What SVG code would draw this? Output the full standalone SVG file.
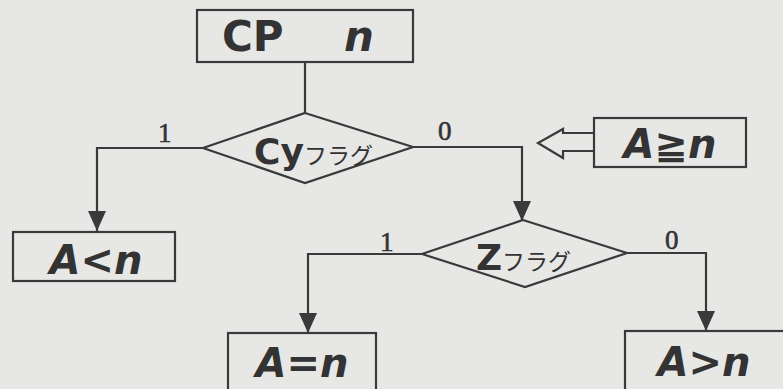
<svg xmlns="http://www.w3.org/2000/svg" width="783" height="389" viewBox="0 0 783 389">
  <defs>
    <marker id="arr" viewBox="0 0 20 18" refX="20" refY="9" markerWidth="20" markerHeight="18" markerUnits="userSpaceOnUse" orient="auto">
      <path d="M0,0 L20,9 L0,18 Z" fill="#3a3a3a"/>
    </marker>
  </defs>
  <style>
    .bg { fill: #e7e7e5; }
    .box { fill: none; stroke: #3a3a3a; stroke-width: 2.2; }
    .line { fill: none; stroke: #3a3a3a; stroke-width: 2.2; }
    .big { font-family: "DejaVu Sans", "Liberation Sans", sans-serif; font-weight: bold; fill: #333; }
    .it { font-style: italic; }
    .jp { font-family: "Noto Sans CJK JP", sans-serif; font-weight: normal; fill: #333; }
    .lbl { font-family: "Liberation Serif", serif; font-size: 27px; fill: #333; stroke: #333; stroke-width: 0.6; }
  </style>
  <rect class="bg" x="0" y="0" width="783" height="389"/>

  <g id="connectors">
    <line class="line" x1="305" y1="62" x2="305" y2="113"/>
    <polyline class="line" points="203,148 97,148 97,231" marker-end="url(#arr)"/>
    <polyline class="line" points="413,147 522,147 522,221" marker-end="url(#arr)"/>
    <polyline class="line" points="422,254 308,254 308,333" marker-end="url(#arr)"/>
    <polyline class="line" points="627,253 706,253 706,331" marker-end="url(#arr)"/>
    <path class="box" d="M594,133 L563,133 L563,129 L538,143 L563,158 L563,151 L594,151"/>
    <text class="lbl" x="158" y="142">1</text>
    <text class="lbl" x="438" y="140">0</text>
    <text class="lbl" x="380" y="251">1</text>
    <text class="lbl" x="665" y="249">0</text>
  </g>

  <g id="cp">
    <rect class="box" x="197" y="10" width="216" height="52"/>
    <text class="big" x="222" y="51" font-size="42">CP</text>
    <text class="big it" x="344" y="51" font-size="42">n</text>
  </g>

  <g id="cy">
    <polygon class="box" points="305,113 413,147 305,183 203,148"/>
    <text x="254" y="164"><tspan class="big" font-size="36">Cy</tspan><tspan class="jp" font-size="23">フラグ</tspan></text>
  </g>

  <g id="ge">
    <rect class="box" x="594" y="118" width="152" height="49"/>
    <text class="big it" x="670" y="158" font-size="40" text-anchor="middle">A≧n</text>
  </g>

  <g id="lt">
    <rect class="box" x="13" y="232" width="162" height="49"/>
    <text class="big it" x="96" y="274" font-size="40" text-anchor="middle">A&lt;n</text>
  </g>

  <g id="z">
    <polygon class="box" points="523,220 627,253 525,287 422,254"/>
    <text x="476" y="270"><tspan class="big" font-size="36">Z</tspan><tspan class="jp" font-size="23">フラグ</tspan></text>
  </g>

  <g id="eq">
    <rect class="box" x="228" y="333" width="148" height="60"/>
    <text class="big it" x="302" y="377" font-size="40" text-anchor="middle">A=n</text>
  </g>

  <g id="gt">
    <rect class="box" x="625" y="331" width="170" height="60"/>
    <text class="big it" x="704" y="376" font-size="40" text-anchor="middle">A&gt;n</text>
  </g>
</svg>
